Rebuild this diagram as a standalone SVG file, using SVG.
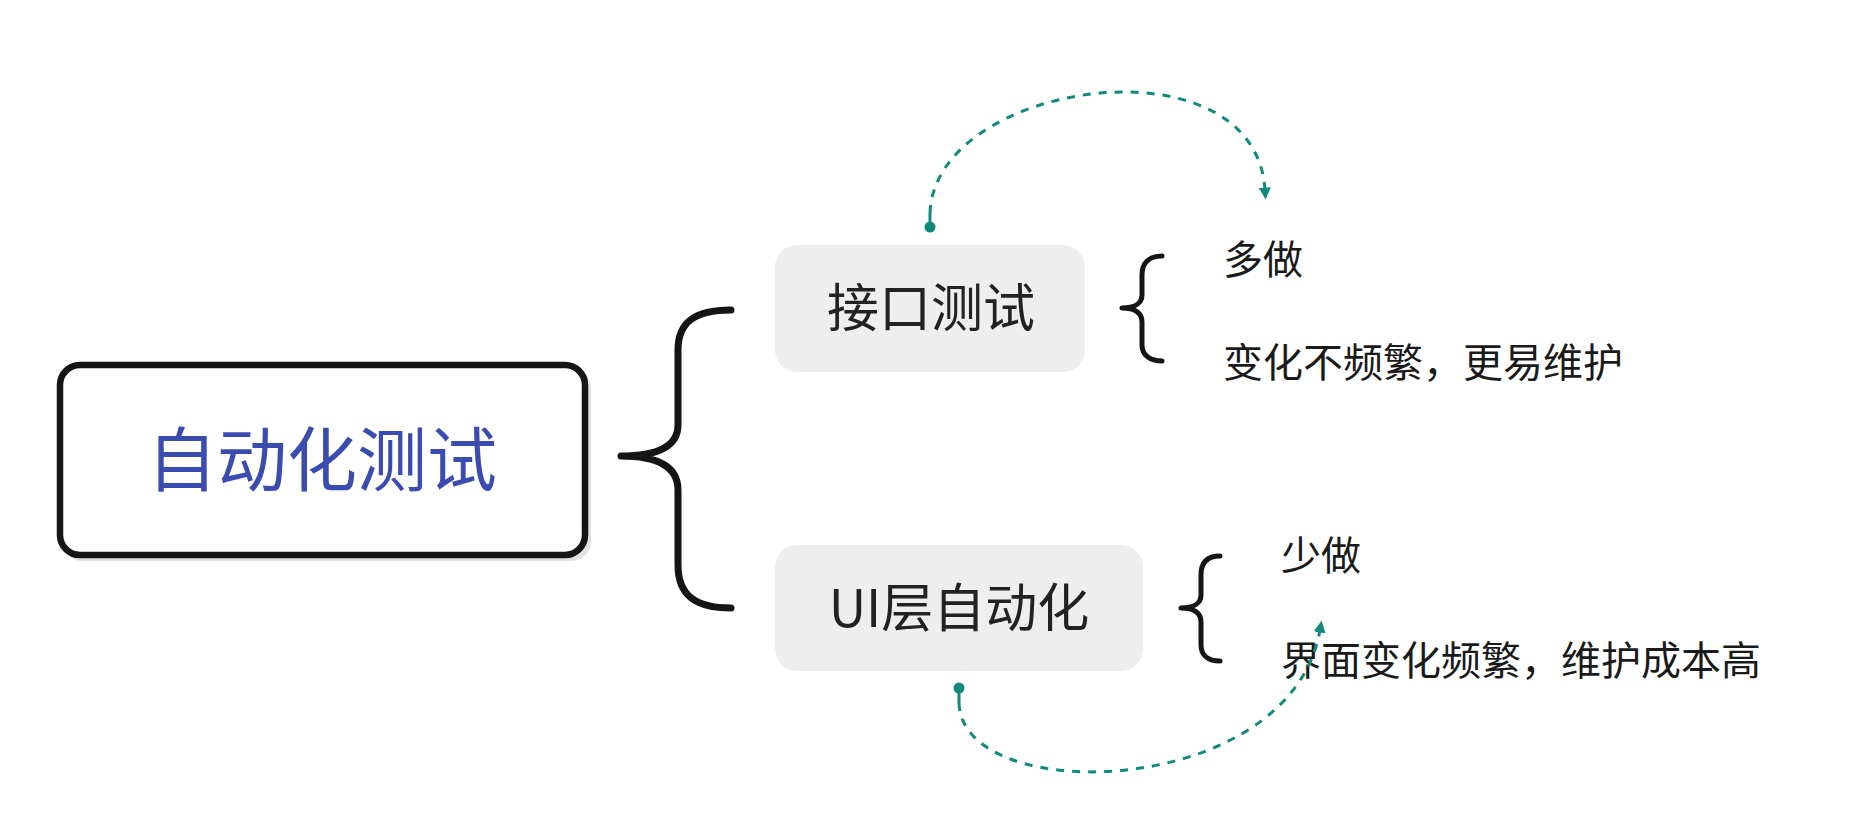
<svg xmlns="http://www.w3.org/2000/svg" width="1859" height="816" viewBox="0 0 1859 816">
  <style>
    .cjk { font-family: "Noto Sans CJK SC", "Noto Sans", sans-serif; }
    .main { font-size: 70px; fill: #3B4CB0; }
    .node { fill: #EEEEEE; }
    .ntext { font-size: 52px; fill: #222222; }
    .note { font-size: 40px; fill: #1A1A1A; }
    .brace { fill: none; stroke: #151515; stroke-linecap: round; stroke-linejoin: round; }
    .dash { fill: none; stroke: #11897C; stroke-width: 3; stroke-dasharray: 8 8; }
    .stub { stroke: #11897C; stroke-width: 3; }
    .dot { fill: #11897C; }
  </style>
  <defs>
    <marker id="arrow" viewBox="0 0 10 10" refX="2" refY="5" markerWidth="4" markerHeight="4" orient="auto" markerUnits="strokeWidth">
      <path d="M0,0 L10,5 L0,10 Z" fill="#11897C"/>
    </marker>
  </defs>
  <rect width="1859" height="816" fill="#FFFFFF"/>

  <g id="root">
    <rect x="62" y="368" width="529" height="193" rx="20" fill="#000" opacity="0.12"/>
    <rect x="60" y="365" width="525" height="190" rx="20" fill="#FFFFFF" stroke="#151515" stroke-width="6.5"/>
    <text class="cjk main" x="322" y="486" text-anchor="middle">自动化测试</text>
  </g>

  <g id="node-api">
    <rect class="node" x="775" y="245" width="310" height="127" rx="22"/>
    <text class="cjk ntext" x="931" y="327" text-anchor="middle">接口测试</text>
  </g>

  <g id="node-ui">
    <rect class="node" x="775" y="545" width="368" height="126" rx="22"/>
    <text class="cjk ntext" x="959" y="627" text-anchor="middle">UI层自动化</text>
  </g>

  <g id="notes-api">
    <text class="cjk note" x="1223" y="274">多做</text>
    <text class="cjk note" x="1223" y="377">变化不频繁，更易维护</text>
  </g>

  <g id="notes-ui">
    <text class="cjk note" x="1281" y="570">少做</text>
    <text class="cjk note" x="1281" y="675">界面变化频繁，维护成本高</text>
  </g>

  <g id="connectors">
    <path class="brace" stroke-width="7" d="M731,310 C695,310 678,322 678,350 L678,425 C678,445 660,456 621,456 C660,456 678,468 678,490 L678,565 C678,595 695,608 731,608"/>
    <path class="brace" stroke-width="5" d="M1162,256 C1150,256 1142,262 1142,275 L1142,295 C1142,303 1135,308 1122,308 C1135,308 1142,313 1142,322 L1142,345 C1142,355 1150,361 1162,361"/>
    <path class="brace" stroke-width="5" d="M1220,556 C1208,556 1201,562 1201,575 L1201,595 C1201,603 1194,608 1181,608 C1194,608 1201,613 1201,622 L1201,645 C1201,655 1208,661 1220,661"/>

    <circle class="dot" cx="930" cy="227" r="5.5"/>
    <line class="stub" x1="930" y1="227" x2="930" y2="213"/>
    <path class="dash" d="M930,213 C935,80 1255,35 1265,190" marker-end="url(#arrow)"/>

    <circle class="dot" cx="959" cy="688" r="5.5"/>
    <line class="stub" x1="959" y1="688" x2="959" y2="703"/>
    <path class="dash" d="M959,703 C962,808 1290,800 1320,630" marker-end="url(#arrow)"/>
  </g>
</svg>
